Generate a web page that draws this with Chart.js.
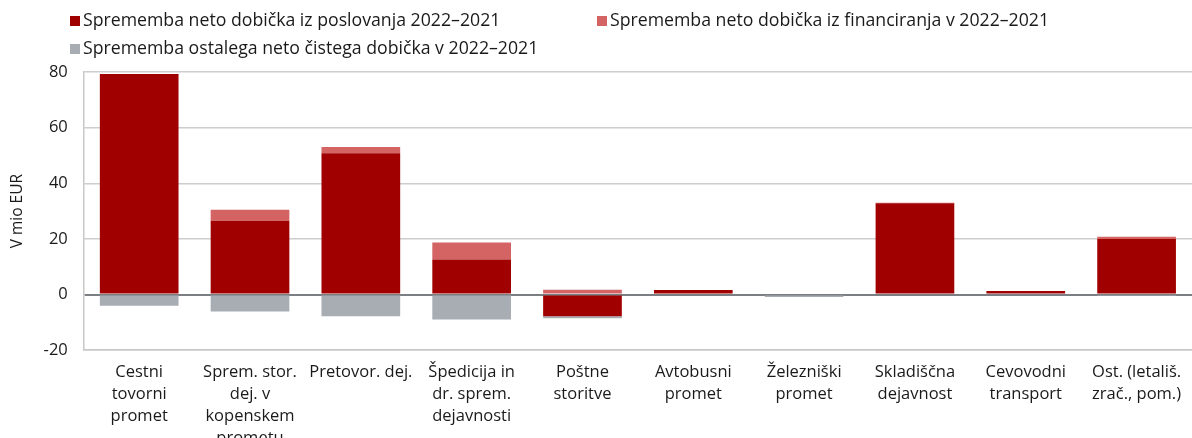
<!DOCTYPE html>
<html>
<head>
<meta charset="utf-8">
<script src="https://cdn.jsdelivr.net/npm/chart.js@4"></script>
<style>
  html, body { margin: 0; padding: 0; background: #fff; overflow: hidden; }
  #wrap { position: relative; width: 1192px; height: 438px; overflow: hidden; }
  #legend { position: absolute; left: 0; top: 0; width: 1192px; height: 60px; font-family: "Open Sans", sans-serif; font-size: 17.7px; color: #1a1a1a; }
  .item { position: absolute; white-space: nowrap; line-height: 22px; }
  .sw { display: inline-block; width: 10px; height: 10px; margin-right: 3px; vertical-align: 0px; }
  canvas { position: absolute; left: 0; top: 0; }
</style>
</head>
<body>
<div id="wrap">
  <canvas id="c" width="1192" height="452"></canvas>
  <div id="legend"></div>
</div>
<script>
const categories = [
  ["Cestni", "tovorni", "promet"],
  ["Sprem. stor.", "dej. v", "kopenskem", "prometu"],
  ["Pretovor. dej."],
  ["Špedicija in", "dr. sprem.", "dejavnosti"],
  ["Poštne", "storitve"],
  ["Avtobusni", "promet"],
  ["Železniški", "promet"],
  ["Skladiščna", "dejavnost"],
  ["Cevovodni", "transport"],
  ["Ost. (letališ.", "zrač., pom.)"]
];
const seriesNames = [
  "Sprememba neto dobička iz poslovanja 2022\u20132021",
  "Sprememba neto dobička iz financiranja v 2022\u20132021",
  "Sprememba ostalega neto čistega dobička v 2022\u20132021"
];
const poslovanje   = [79.3, 26.5, 50.8, 12.6, -7.8, 1.6, -0.3, 32.8, 1.3, 20.0];
const financiranje = [0.0, 4.0, 2.2, 6.1, 1.7, 0.0, 0.0, 0.2, 0.0, 0.8];
const ostalo       = [-4.0, -6.1, -7.8, -9.0, -0.7, 0.0, -0.6, 0.0, 0.0, -0.5];
const yTicks = [-20, 0, 20, 40, 60, 80];
const yTitle = "V mio EUR";

const colors = ["#a00000", "#d46464", "#a7adb3"];
const FONT = "'Open Sans', sans-serif";

// HTML legend
const legendPos = [[70, 8], [597, 8], [70, 36]];
const lg = document.getElementById('legend');
seriesNames.forEach((n, i) => {
  const d = document.createElement('div');
  d.className = 'item';
  d.style.left = legendPos[i][0] + 'px';
  d.style.top = legendPos[i][1] + 'px';
  const s = document.createElement('span');
  s.className = 'sw';
  s.style.background = colors[i];
  d.appendChild(s);
  d.appendChild(document.createTextNode(n));
  lg.appendChild(d);
});

new Chart(document.getElementById('c'), {
  type: 'bar',
  data: {
    labels: categories,
    datasets: [
      { label: seriesNames[0], data: poslovanje, backgroundColor: colors[0] },
      { label: seriesNames[1], data: financiranje, backgroundColor: colors[1] },
      { label: seriesNames[2], data: ostalo, backgroundColor: colors[2] }
    ]
  },
  options: {
    responsive: false,
    animation: false,
    layout: { padding: { top: 72, right: 0, left: 0, bottom: 0 } },
    datasets: { bar: { categoryPercentage: 1.0, barPercentage: 0.71 } },
    plugins: { legend: { display: false }, tooltip: { enabled: false } },
    scales: {
      x: {
        stacked: true,
        grid: { display: false },
        border: { display: true, color: '#c8c8c8', width: 1.5 },
        ticks: {
          color: '#1a1a1a', maxRotation: 0, autoSkip: false, padding: 3,
          font: { family: FONT, size: 16.5, lineHeight: 1.33 }
        }
      },
      y: {
        stacked: true,
        min: yTicks[0], max: yTicks[yTicks.length - 1],
        afterBuildTicks: (s) => { s.ticks = yTicks.map(v => ({ value: v })); },
        grid: {
          drawTicks: false,
          color: (ctx) => ctx.tick && ctx.tick.value === 0 ? '#7b7f84' : '#cdcdcd',
          lineWidth: (ctx) => ctx.tick && ctx.tick.value === 0 ? 2 : 1.5
        },
        border: { display: true, color: '#c8c8c8', width: 1.5 },
        ticks: { color: '#1a1a1a', padding: 16, font: { family: FONT, size: 16.5 } },
        title: { display: true, text: yTitle, color: '#1a1a1a', padding: { top: 8, bottom: 1 }, font: { family: FONT, size: 15.5 } }
      }
    }
  }
});
</script>
</body>
</html>
